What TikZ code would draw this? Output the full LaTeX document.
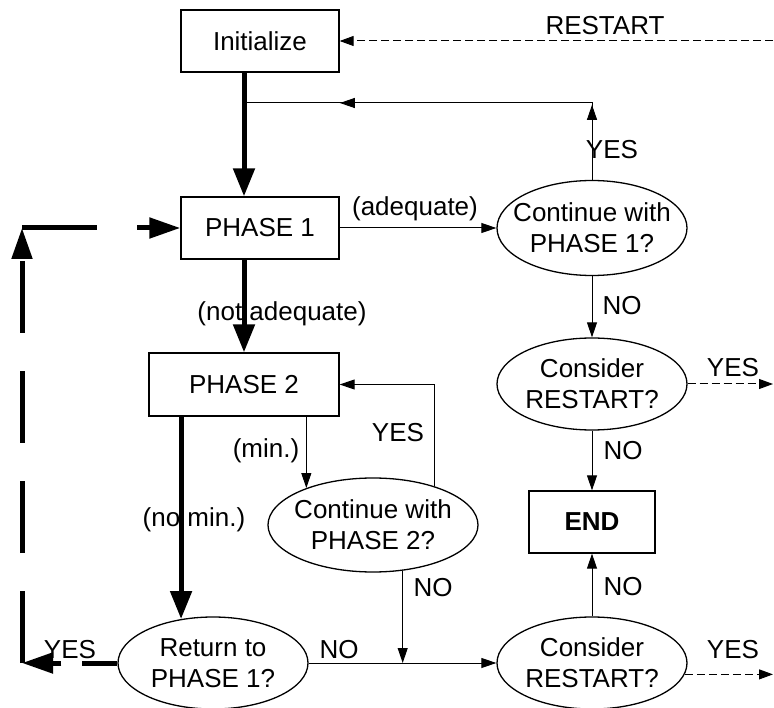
\documentclass[tikz,border=0pt]{standalone}
\usepackage{fontspec}
\setmainfont{Liberation Sans}
\usetikzlibrary{arrows.meta,shapes.geometric,decorations.markings}
\tikzset{
  txt/.style={font=\fontsize{26}{31}\selectfont},
  lbl/.style={txt, inner sep=0pt, anchor=base},
  boxn/.style={txt, draw, line width=1.3pt, rectangle, inner sep=0pt},
  elln/.style={txt, draw, line width=1.3pt, ellipse, inner xsep=-30pt, inner ysep=0pt, minimum width=190pt, minimum height=92pt, align=center},
  thinline/.style={line width=1pt},
  thinarrow/.style={line width=1pt, -{Triangle[length=15pt,width=10pt]}},
  dasharrow/.style={line width=1pt, dash pattern=on 8pt off 4pt, -{Triangle[length=14pt,width=10pt]}},
  thickarrow/.style={line width=5pt, -{Triangle[length=28pt,width=21pt]}},
  loopdash/.style={line width=5pt, -{Triangle[length=31pt,width=20pt]}},
}
\begin{document}
\begin{tikzpicture}[x=1pt,y=-1pt]
\useasboundingbox (0,0) rectangle (774,708);

% nodes
\node[boxn, minimum width=158pt, minimum height=62pt] (init) at (260,41) {Initialize};
\node[boxn, minimum width=158pt, minimum height=62pt] (ph1) at (260,228) {PHASE 1};
\node[boxn, minimum width=190pt, minimum height=63pt] (ph2) at (244,384.5) {PHASE 2};
\node[boxn, minimum width=126pt, minimum height=62pt, font=\fontsize{26}{31}\selectfont\bfseries] (endb) at (592,522) {END};
\node[elln, minimum height=95pt] (cont1) at (592,228) {Continue with\\PHASE 1?};
\node[elln] (rs1) at (592,384) {Consider\\RESTART?};
\node[elln, minimum width=210pt, minimum height=94pt] (cont2) at (373,525) {Continue with\\PHASE 2?};
\node[elln] (ret) at (213,663) {Return to\\PHASE 1?};
\node[elln] (rs2) at (592,663) {Consider\\RESTART?};

% helper coordinates
\coordinate (R) at (773,0);
\coordinate (L) at (22,0);
\coordinate (j1) at (244,103);
\coordinate (TL) at (ph1.west -| L);
\coordinate (BL) at (ret.west -| L);

% thick main flow
\draw[thickarrow] (init.south -| ph2.north) -- (ph1.north -| ph2.north);
\draw[thickarrow] (ph1.south -| ph2.north) -- (ph2.north);
\draw[thickarrow] (ph2.south -| ret.126) -- (ret.126);

% thin connectors
\draw[thinarrow] (ph1.east) -- (cont1.west);
\draw[thinline, postaction={decorate}, decoration={markings,
   mark=at position 75pt with {\arrow{Triangle[length=15pt,width=10pt]}},
   mark=at position 329pt with {\arrow{Triangle[length=15pt,width=10pt]}}}]
   (cont1.north) |- (j1);
\draw[thinarrow] (cont1.south) -- (rs1.north);
\draw[thinarrow] (rs1.south) -- (endb.north);
\draw[thinarrow] (rs2.north) -- (endb.south);
\draw[thinarrow] (ph2.south -| cont2.151) -- (cont2.151);
\draw[thinarrow] (cont2.32) |- (ph2.east);
\draw[thinarrow] (cont2.-57) -- (cont2.-57 |- ret.east);
\draw[thinarrow] (ret.east) -- (rs2.west);

% dashed restart connectors
\draw[dasharrow] (init.east -| R) -- (init.east);
\draw[dasharrow] (rs1.east) -- (rs1.east -| R);
\draw[dasharrow] (rs2.-7) -- (rs2.-7 -| R);

% big dashed return loop
\draw[loopdash, dash pattern=on 35pt off 21pt on 200pt] (ret.west) -- (BL);
\draw[loopdash, dash pattern=on 72pt off 38pt] (BL) -- (TL);
\draw[loopdash, dash pattern=on 75pt off 40pt on 200pt] (TL) -- (ph1.west);

% labels
\node[lbl] (lrestart) at (605,35) {RESTART};
\node[lbl] (lyes1) at (612,159) {YES};
\node[lbl] (ladeq) at (415,216) {(adequate)};
\node[lbl] (lno1) at (622,315) {NO};
\node[lbl] (lnotadeq) at (282,321) {(not adequate)};
\node[lbl] (lyes2) at (733,377) {YES};
\node[lbl] (lyes3) at (398,442) {YES};
\node[lbl] (lmin) at (266,457) {(min.)};
\node[lbl] (lno2) at (623,460) {NO};
\node[lbl] (lnomin) at (194,526) {(no min.)};
\node[lbl] (lno3) at (623,595) {NO};
\node[lbl] (lno4) at (433,596) {NO};
\node[lbl] (lno5) at (339,658) {NO};
\node[lbl] (lyes4) at (733,658) {YES};
\node[lbl] (lyes5) at (70,658) {YES};
\end{tikzpicture}
\end{document}
